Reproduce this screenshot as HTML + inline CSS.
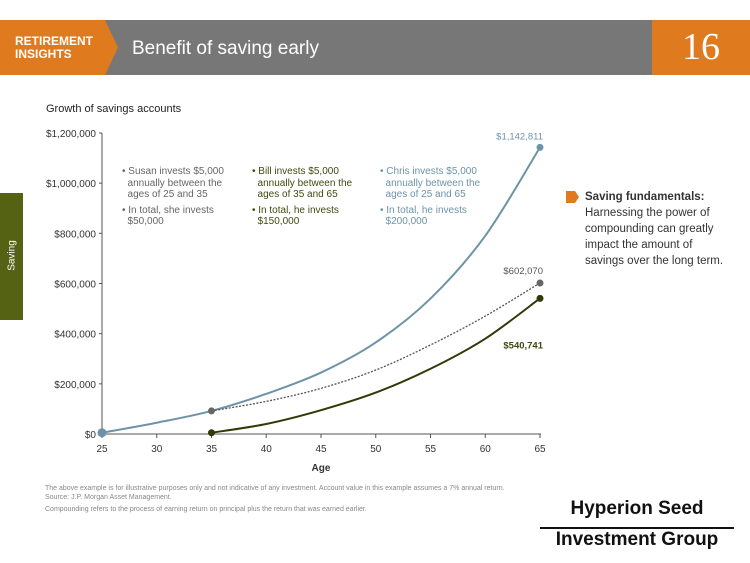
<!DOCTYPE html>
<html><head><meta charset="utf-8"><style>
body{margin:0;width:750px;height:563px;background:#fff;overflow:hidden;font-family:"Liberation Sans Narrow","Liberation Sans",sans-serif;position:relative}
.abs{position:absolute}
</style></head><body>
<div class="abs" style="left:0;top:20px;width:750px;height:55px;background:#777"></div>
<svg class="abs" style="left:0;top:20px" width="130" height="55"><polygon points="0,0 105,0 118,27.5 105,55 0,55" fill="#e07a1f"/></svg>
<div class="abs" style="left:15px;top:35px;color:#fff;font-weight:bold;font-size:12px;line-height:13px">RETIREMENT<br>INSIGHTS</div>
<div class="abs" style="left:132px;top:38px;color:#fff;font-size:19px">Benefit of saving early</div>
<div class="abs" style="left:652px;top:20px;width:98px;height:55px;background:#e07a1f;color:#fff;font-family:'Liberation Serif',serif;font-size:38px;line-height:55px;text-align:center">16</div>
<div class="abs" style="left:0;top:193px;width:23px;height:127px;background:#556214"></div>
<div class="abs" style="left:-10px;top:250px;width:44px;color:#fff;font-size:10px;transform:rotate(-90deg);text-align:center">Saving</div>
<div class="abs" style="left:46px;top:103px;font-size:11px;color:#222">Growth of savings accounts</div>
<svg id="chart" class="abs" style="left:0;top:0" width="750" height="563"></svg>
<div class="abs" style="left:122px;top:166px;font-size:10px;line-height:11.5px;color:#666;width:120px">• Susan invests $5,000<br>&nbsp;&nbsp;annually between the<br>&nbsp;&nbsp;ages of 25 and 35<br><div style="height:4px"></div>• In total, she invests<br>&nbsp;&nbsp;$50,000</div>
<div class="abs" style="left:252px;top:166px;font-size:10px;line-height:11.5px;color:#3f4a10;width:120px">• Bill invests $5,000<br>&nbsp;&nbsp;annually between the<br>&nbsp;&nbsp;ages of 35 and 65<br><div style="height:4px"></div>• In total, he invests<br>&nbsp;&nbsp;$150,000</div>
<div class="abs" style="left:380px;top:166px;font-size:10px;line-height:11.5px;color:#6d93a8;width:120px">• Chris invests $5,000<br>&nbsp;&nbsp;annually between the<br>&nbsp;&nbsp;ages of 25 and 65<br><div style="height:4px"></div>• In total, he invests<br>&nbsp;&nbsp;$200,000</div>
<svg class="abs" style="left:566px;top:191px" width="14" height="12"><polygon points="0,0 9,0 13,6 9,12 0,12" fill="#e07a1f"/></svg>
<div class="abs" style="left:585px;top:189px;font-size:11.5px;line-height:16px;color:#333;white-space:nowrap"><b>Saving fundamentals:</b><br>Harnessing the power of<br>compounding can greatly<br>impact the amount of<br>savings over the long term.</div>
<div class="abs" style="left:45px;top:484px;font-size:7px;line-height:9px;color:#888">The above example is for illustrative purposes only and not indicative of any investment. Account value in this example assumes a 7% annual return.<br>Source: J.P. Morgan Asset Management.<div style="height:3px"></div>Compounding refers to the process of earning return on principal plus the return that was earned earlier.</div>
<div class="abs" style="left:540px;top:498px;width:194px;text-align:center;font-weight:bold;font-size:19px;color:#111;font-family:'Liberation Sans',sans-serif">Hyperion Seed</div>
<div class="abs" style="left:540px;top:527px;width:194px;height:1.5px;background:#111"></div>
<div class="abs" style="left:540px;top:529px;width:194px;text-align:center;font-weight:bold;font-size:19px;color:#111;font-family:'Liberation Sans',sans-serif">Investment Group</div>
<script>
const ages=[25,30,35,40,45,50,55,60,65];
const chris=[5000,45000,92000,160000,245000,365000,540000,790000,1142811];
const susanAges=[35,40,45,50,55,60,65];
const susan=[92000,130000,182000,255000,355000,470000,602070];
const billAges=[35,40,45,50,55,60,65];
const bill=[5000,40000,95000,165000,260000,380000,540741];
const yTicks=[0,200000,400000,600000,800000,1000000,1200000];
const xTicks=[25,30,35,40,45,50,55,60,65];
const NS="http://www.w3.org/2000/svg";
const svg=document.getElementById('chart');
const X=a=>102+(a-25)/40*438;
const Y=v=>434-v/1200000*301;
function el(t,at,txt){const e=document.createElementNS(NS,t);for(const k in at)e.setAttribute(k,at[k]);if(txt!==undefined)e.textContent=txt;svg.appendChild(e);return e;}
let e=el('line',{x1:102,y1:133,x2:102,y2:434,stroke:'#555','stroke-width':1});

e=el('line',{x1:102,y1:434,x2:541,y2:434,stroke:'#555','stroke-width':1});

yTicks.forEach(v=>{const t=el('text',{x:96,y:Y(v)+4,'text-anchor':'end','font-size':10,fill:'#333','font-family':'Liberation Sans,sans-serif'},'$'+v.toLocaleString('en-US'));

el('line',{x1:99,x2:102,y1:Y(v),y2:Y(v),stroke:'#555'});});
xTicks.forEach(a=>{const t=el('text',{x:X(a),y:452,'text-anchor':'middle','font-size':10,fill:'#333','font-family':'Liberation Sans,sans-serif'},a);

el('line',{x1:X(a),x2:X(a),y1:434,y2:438,stroke:'#555'});});
e=el('text',{x:X(45),y:471,'text-anchor':'middle','font-size':10,'font-weight':'bold',fill:'#333','font-family':'Liberation Sans,sans-serif'},'Age');

function path(xs,vs){const p=xs.map((a,i)=>[X(a),Y(vs[i])]);let d='M'+p[0];
for(let i=0;i<p.length-1;i++){const p0=p[i-1]||p[i],p1=p[i],p2=p[i+1],p3=p[i+2]||p2;
d+=` C${p1[0]+(p2[0]-p0[0])/6},${p1[1]+(p2[1]-p0[1])/6} ${p2[0]-(p3[0]-p1[0])/6},${p2[1]-(p3[1]-p1[1])/6} ${p2[0]},${p2[1]}`;}return d;}
e=el('path',{d:path(ages,chris),fill:'none',stroke:'#6d93a8','stroke-width':2});

e=el('path',{d:path(susanAges,susan),fill:'none',stroke:'#555','stroke-width':1.3,'stroke-dasharray':'2,1.5'});

e=el('path',{d:path(billAges,bill),fill:'none',stroke:'#2f3a08','stroke-width':2});

e=el('circle',{cx:X(25),cy:Y(chris[0]),r:4.5,fill:'#6d93a8'});
e=el('circle',{cx:X(35),cy:Y(susan[0]),r:3.5,fill:'#666'});
e=el('circle',{cx:X(35),cy:Y(bill[0]),r:3.5,fill:'#2f3a08'});
e=el('circle',{cx:X(65),cy:Y(chris[8]),r:3.5,fill:'#6d93a8'});
e=el('circle',{cx:X(65),cy:Y(susan[6]),r:3.5,fill:'#666'});
e=el('circle',{cx:X(65),cy:Y(bill[6]),r:3.5,fill:'#2f3a08'});
const lf='Liberation Sans,sans-serif';
e=el('text',{x:543,y:Y(chris[8])-8,'text-anchor':'end','font-size':9.5,fill:'#6d93a8','font-family':lf},'$'+chris[8].toLocaleString('en-US'));

e=el('text',{x:543,y:Y(susan[6])-9,'text-anchor':'end','font-size':9.5,fill:'#555','font-family':lf},'$'+susan[6].toLocaleString('en-US'));

e=el('text',{x:543,y:Y(bill[6])+50,'text-anchor':'end','font-size':9.5,'font-weight':'bold',fill:'#3f4a10','font-family':lf},'$'+bill[6].toLocaleString('en-US'));

</script>
</body></html>
